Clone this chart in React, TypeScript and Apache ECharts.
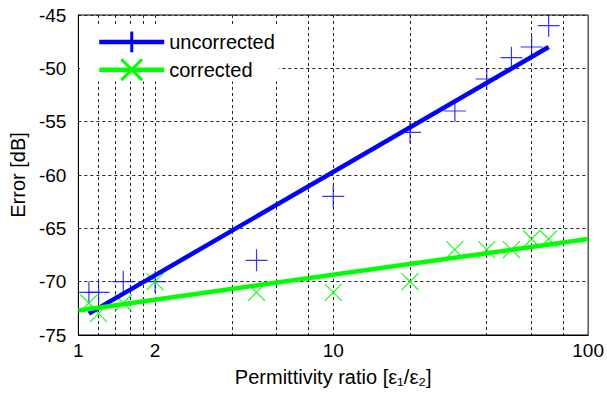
import React, { useEffect, useRef } from "react";
import * as echarts from "echarts";

const ratios = [1.1, 1.2, 1.5, 2, 5, 10, 20, 30, 40, 50, 60, 70];
const uncorrected = [-71, -71, -70, -70, -68, -62, -56, -54, -51, -49, -48, -46];
const corrected = [-72, -73, -72, -70, -71, -71, -70, -67, -67, -67, -66, -66];
const uncorrectedFit = [[1.1, -73], [70, -48]];
const correctedFit = [[1, -72.7], [100, -66]];
const xGridValues = [1.2, 1.4, 1.6, 1.8, 2, 4, 6, 8, 10, 20, 40, 60, 80];
const xLabelValues = [1, 2, 10, 100];

const FONT = "'Liberation Sans', Arial, Helvetica, sans-serif";
const PLUS = "path://M0,5L10,5M5,0L5,10";
const CROSS = "path://M0,0L10,10M0,10L10,0";
const BLUE = "#0000ff";
const GREEN = "#00ff00";

export default function App() {
  const ref = useRef<HTMLDivElement>(null);
  useEffect(() => {
    if (!ref.current) return;
    const chart = echarts.init(ref.current, undefined, { renderer: "svg" });
    chart.setOption({
      animation: false,
      backgroundColor: "#fff",
      grid: {
        left: 74,
        right: 17,
        top: 15,
        bottom: 58,
        show: true,
        borderColor: "#000",
        borderWidth: 1,
        backgroundColor: "#fff",
      },
      legend: {
        data: ["uncorrected", "corrected"],
        orient: "vertical",
        left: 80,
        top: 25,
        padding: [5, 4, 0, 17],
        itemGap: 4,
        itemWidth: 65,
        itemHeight: 26,
        backgroundColor: "#fff",
        itemStyle: { borderWidth: 3 },
        lineStyle: { width: 4.5 },
        textStyle: { fontSize: 20, color: "#000", fontFamily: FONT },
      },
      xAxis: {
        type: "log",
        logBase: 10,
        min: 1,
        max: 100,
        name: "Permittivity ratio [ε₁/ε₂]",
        nameLocation: "middle",
        nameGap: 32,
        nameTextStyle: { fontSize: 20, color: "#000", fontFamily: FONT },
        axisLine: { show: true, lineStyle: { color: "#000", width: 1 } },
        axisTick: { show: false, customValues: xGridValues },
        axisLabel: {
          customValues: xLabelValues,
          fontSize: 19,
          color: "#000",
          fontFamily: FONT,
          margin: 6,
        },
        splitLine: { show: true, lineStyle: { color: "#222", type: [3, 3], width: 1 } },
        minorTick: { show: false },
        minorSplitLine: { show: false },
      },
      yAxis: {
        type: "value",
        min: -75,
        max: -45,
        interval: 5,
        name: "Error [dB]",
        nameLocation: "middle",
        nameGap: 50,
        nameTextStyle: { fontSize: 20, color: "#000", fontFamily: FONT },
        axisLine: { show: true, lineStyle: { color: "#000", width: 1 } },
        axisTick: { show: false },
        axisLabel: { fontSize: 19, color: "#000", fontFamily: FONT, margin: 12 },
        splitLine: { show: true, lineStyle: { color: "#222", type: [3, 3], width: 1 } },
      },
      series: [
        {
          name: "uncorrected",
          type: "line",
          data: uncorrectedFit,
          symbol: PLUS,
          showSymbol: false,
          lineStyle: { color: BLUE, width: 4.5 },
          itemStyle: { color: BLUE, borderColor: BLUE, borderWidth: 3 },
          z: 3,
        },
        {
          name: "corrected",
          type: "line",
          data: correctedFit,
          symbol: CROSS,
          showSymbol: false,
          lineStyle: { color: GREEN, width: 4.5 },
          itemStyle: { color: GREEN, borderColor: GREEN, borderWidth: 3 },
          z: 3,
        },
        {
          name: "uncorrected data",
          type: "scatter",
          data: ratios.map((r, i) => [r, uncorrected[i]]),
          symbol: PLUS,
          symbolSize: 22,
          itemStyle: { color: BLUE, borderColor: BLUE, borderWidth: 1.2, opacity: 0.8 },
          z: 2,
        },
        {
          name: "corrected data",
          type: "scatter",
          data: ratios.map((r, i) => [r, corrected[i]]),
          symbol: CROSS,
          symbolSize: 17,
          itemStyle: { color: GREEN, borderColor: GREEN, borderWidth: 1.2, opacity: 0.9 },
          z: 2,
        },
      ],
    });
    return () => chart.dispose();
  }, []);
  return (
    <div
      ref={ref}
      style={{ position: "fixed", left: 0, top: 0, width: 607, height: 393 }}
    />
  );
}
